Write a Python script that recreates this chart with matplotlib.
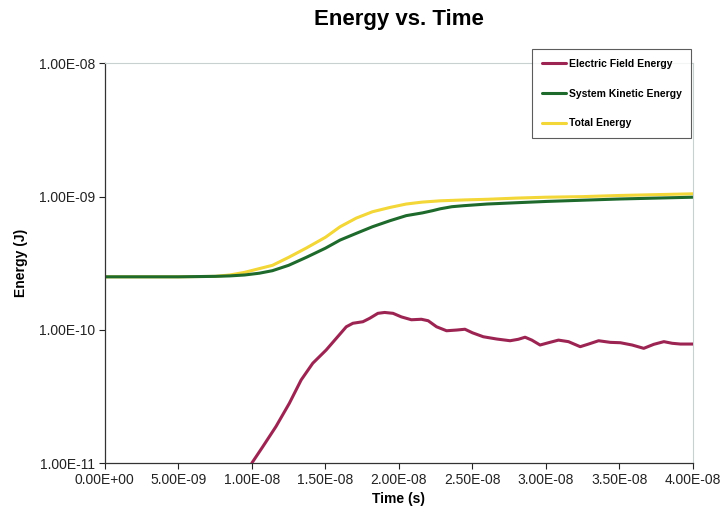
import numpy as np
import matplotlib
matplotlib.use("Agg")
import matplotlib.pyplot as plt
from matplotlib.ticker import FixedLocator, FuncFormatter

plt.rcParams['font.family'] = ['Liberation Sans', 'DejaVu Sans']

# time in ns, energies in J
t_field = [10.0, 10.73, 11.64, 12.55, 13.35, 14.14, 15.05, 15.74, 16.42, 16.87,
           17.55, 18.01, 18.57, 19.03, 19.6, 20.17, 20.85, 21.53, 21.99, 22.56,
           23.24, 23.92, 24.49, 25.0, 25.74, 26.65, 27.56, 28.12, 28.58, 29.04,
           29.6, 30.17, 30.85, 31.53, 32.33, 32.9, 33.58, 34.38, 35.06, 35.86,
           36.65, 37.33, 38.02, 38.59, 39.15, 40.0]
e_field = [1.00e-11, 1.32e-11, 1.88e-11, 2.81e-11, 4.20e-11, 5.61e-11, 7.05e-11,
           8.63e-11, 1.054e-10, 1.12e-10, 1.15e-10, 1.22e-10, 1.33e-10, 1.35e-10,
           1.33e-10, 1.25e-10, 1.19e-10, 1.20e-10, 1.17e-10, 1.054e-10, 9.84e-11,
           9.96e-11, 1.01e-10, 9.5e-11, 8.87e-11, 8.53e-11, 8.28e-11, 8.49e-11,
           8.8e-11, 8.37e-11, 7.69e-11, 8.0e-11, 8.37e-11, 8.15e-11, 7.47e-11,
           7.82e-11, 8.28e-11, 8.05e-11, 8.0e-11, 7.69e-11, 7.26e-11, 7.78e-11,
           8.15e-11, 7.92e-11, 7.82e-11, 7.82e-11]

t_kin = [0.0, 5.0, 7.5, 8.5, 9.5, 10.5, 11.4, 12.5, 13.7, 15.0, 16.0, 17.1,
         18.2, 19.4, 20.5, 21.6, 22.3, 22.8, 23.6, 24.4, 26.0, 28.0, 30.0,
         32.5, 35.0, 37.5, 40.0]
e_kin = [2.5e-10, 2.5e-10, 2.52e-10, 2.54e-10, 2.58e-10, 2.66e-10, 2.78e-10,
         3.05e-10, 3.5e-10, 4.1e-10, 4.72e-10, 5.3e-10, 5.94e-10, 6.6e-10,
         7.2e-10, 7.55e-10, 7.85e-10, 8.1e-10, 8.4e-10, 8.55e-10, 8.8e-10,
         9.0e-10, 9.2e-10, 9.4e-10, 9.6e-10, 9.75e-10, 9.9e-10]

t_tot = [0.0, 5.0, 7.5, 8.5, 9.5, 10.5, 11.4, 12.5, 13.7, 15.0, 16.0, 17.1,
         18.2, 19.4, 20.5, 21.6, 22.8, 24.5, 26.0, 28.0, 30.0, 32.5, 35.0,
         37.5, 40.0]
e_tot = [2.5e-10, 2.5e-10, 2.52e-10, 2.58e-10, 2.7e-10, 2.88e-10, 3.05e-10,
         3.5e-10, 4.11e-10, 4.95e-10, 5.94e-10, 6.9e-10, 7.7e-10, 8.3e-10,
         8.8e-10, 9.1e-10, 9.3e-10, 9.45e-10, 9.55e-10, 9.75e-10, 9.9e-10,
         1.0e-09, 1.02e-09, 1.035e-09, 1.05e-09]

x_ticks = [0, 5e-9, 1e-8, 1.5e-8, 2e-8, 2.5e-8, 3e-8, 3.5e-8, 4e-8]
y_ticks = [1e-11, 1e-10, 1e-9, 1e-8]

fig = plt.figure(figsize=(7.23, 5.20), dpi=100)
ax = fig.add_axes([0.145, 0.1096, 0.8135, 0.7684])

line_kw = dict(lw=2.2, solid_joinstyle='round', solid_capstyle='round')
ax.plot(np.array(t_field) * 1e-9, e_field, color='#9C2452',
        label='Electric Field Energy', zorder=3, **line_kw)
ax.plot(np.array(t_kin) * 1e-9, e_kin, color='#1E6A2C',
        label='System Kinetic Energy', zorder=2, **line_kw)
ax.plot(np.array(t_tot) * 1e-9, e_tot, color='#F3D637',
        label='Total Energy', zorder=1, **line_kw)

ax.set_yscale('log')
ax.set_xlim(0, 4e-8)
ax.set_ylim(1e-11, 1e-8)
ax.xaxis.set_major_locator(FixedLocator(x_ticks))
ax.yaxis.set_major_locator(FixedLocator(y_ticks))
ax.yaxis.set_minor_locator(FixedLocator([]))
ax.xaxis.set_major_formatter(FuncFormatter(lambda v, p: f"{v:.2E}"))
ax.yaxis.set_major_formatter(FuncFormatter(lambda v, p: f"{v:.2E}"))
ax.tick_params(labelsize=10, length=4, width=0.8, colors='#222222', pad=3)

for s in ['top', 'right']:
    ax.spines[s].set_color('#c8d0d0')
    ax.spines[s].set_linewidth(0.8)
for s in ['left', 'bottom']:
    ax.spines[s].set_color('#333333')
    ax.spines[s].set_linewidth(0.9)

ax.set_xlabel('Time (s)', fontsize=10, fontweight='bold', labelpad=4)
ax.set_ylabel('Energy (J)', fontsize=10, fontweight='bold', labelpad=8)
fig.suptitle('Energy vs. Time', fontsize=16, fontweight='bold', x=0.552, y=0.982)

leg = fig.legend(loc='upper right', bbox_to_anchor=(0.963, 0.915), fontsize=7.5,
                 frameon=True, fancybox=False, edgecolor='#333333',
                 handlelength=2.3, handletextpad=0.3, labelspacing=1.9,
                 borderpad=0.9)
leg.get_frame().set_linewidth(0.8)
for txt in leg.get_texts():
    txt.set_fontweight('bold')

fig.savefig('out.png', dpi=100)
